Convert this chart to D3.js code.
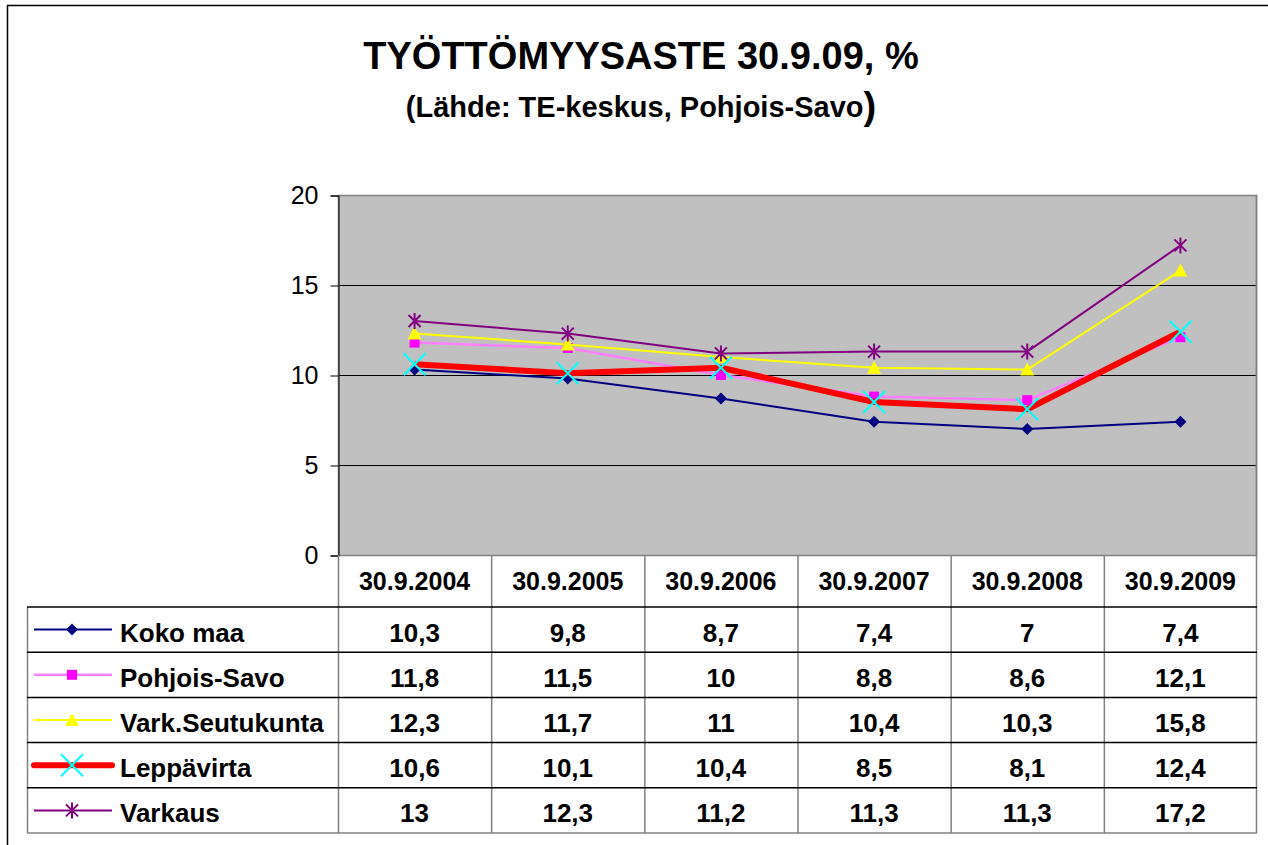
<!doctype html>
<html lang="fi">
<head>
<meta charset="utf-8">
<style>
  body { margin: 0; background: #fff; }
  svg { display: block; font-family: "Liberation Sans", Arial, sans-serif; }
</style>
</head>
<body>
<div id="chart"></div>
<script src="https://d3js.org/d3.v7.min.js"></script>
<script>
// chart data
var dates = ["30.9.2004", "30.9.2005", "30.9.2006", "30.9.2007", "30.9.2008", "30.9.2009"];
var kokoMaa = [10.3, 9.8, 8.7, 7.4, 7, 7.4];
var pohjoisSavo = [11.8, 11.5, 10, 8.8, 8.6, 12.1];
var varkSeutukunta = [12.3, 11.7, 11, 10.4, 10.3, 15.8];
var leppavirta = [10.6, 10.1, 10.4, 8.5, 8.1, 12.4];
var varkaus = [13, 12.3, 11.2, 11.3, 11.3, 17.2];
var yTicks = [0, 5, 10, 15, 20];

var series = [
  {name: "Koko maa", values: kokoMaa, line: "#000080", width: 2, marker: "diamond", mcolor: "#000080"},
  {name: "Pohjois-Savo", values: pohjoisSavo, line: "#FF80FF", width: 2.5, marker: "square", mcolor: "#FF00FF"},
  {name: "Vark.Seutukunta", values: varkSeutukunta, line: "#FFFF00", width: 2, marker: "triangle", mcolor: "#FFFF00"},
  {name: "Leppävirta", values: leppavirta, line: "#FF0000", width: 6, marker: "x", mcolor: "#00FFFF"},
  {name: "Varkaus", values: varkaus, line: "#800080", width: 2, marker: "star", mcolor: "#800080"}
];

var W = 1268, H = 845;
var plot = {left: 338, right: 1257, top: 195, bottom: 555};
var tableLeft = 27, headerBottom = 607, rowH = 45.2;

var svg = d3.select("#chart").append("svg")
    .attr("width", W)
    .attr("height", H);

svg.append("rect").attr("width", W).attr("height", H).attr("fill", "#fff");

// outer frame
svg.append("rect")
   .attr("x", 7.5).attr("y", 5.5)
   .attr("width", 1270).attr("height", 850)
   .attr("fill", "none").attr("stroke", "#000").attr("stroke-width", 1.5);

// titles
svg.append("text")
   .attr("x", 641).attr("y", 69)
   .attr("text-anchor", "middle")
   .attr("font-size", 38).attr("font-weight", "bold")
   .text("TYÖTTÖMYYSASTE 30.9.09, %");

var sub = svg.append("text")
   .attr("x", 641).attr("y", 117)
   .attr("text-anchor", "middle")
   .attr("font-size", 29).attr("font-weight", "bold");
sub.append("tspan").text("(Lähde: TE-keskus, Pohjois-Savo");
sub.append("tspan").attr("font-size", 38).attr("dy", 2).text(")");

// scales
var x = d3.scaleBand().domain(dates).range([plot.left, plot.right]);
var y = d3.scaleLinear().domain([0, 20]).range([plot.bottom, plot.top]);

// plot area
svg.append("rect")
   .attr("x", plot.left).attr("y", plot.top)
   .attr("width", plot.right - plot.left).attr("height", plot.bottom - plot.top)
   .attr("fill", "#C0C0C0");

svg.append("g").selectAll("line")
   .data(yTicks.filter(function(d) { return d > 0 && d < 20; }))
   .join("line")
   .attr("x1", plot.left).attr("x2", plot.right)
   .attr("y1", function(d) { return y(d) + 0.5; }).attr("y2", function(d) { return y(d) + 0.5; })
   .attr("stroke", "#000").attr("stroke-width", 1);

svg.append("rect")
   .attr("x", plot.left + 0.5).attr("y", plot.top + 0.5)
   .attr("width", plot.right - plot.left - 1).attr("height", plot.bottom - plot.top)
   .attr("fill", "none").attr("stroke", "#808080").attr("stroke-width", 1.5);

// y axis
var yAxis = svg.append("g")
   .attr("transform", "translate(" + (plot.left + 0.5) + ",0.5)")
   .call(d3.axisLeft(y).tickValues(yTicks).tickSize(8).tickPadding(12));
yAxis.select(".domain").attr("stroke", "#000");
yAxis.selectAll(".tick line").attr("stroke", "#000");
yAxis.selectAll("text").attr("font-size", 25).attr("fill", "#000")
   .attr("font-family", "\"Liberation Sans\", Arial, sans-serif");

// series lines and markers
var line = d3.line()
   .x(function(d, i) { return x(dates[i]) + x.bandwidth() / 2; })
   .y(function(d) { return y(d); });

function markerPath(type) {
  if (type === "diamond") return "M0,-6L6,0L0,6L-6,0Z";
  if (type === "square") return "M-5,-5H5V5H-5Z";
  if (type === "triangle") return "M0,-7L7,6H-7Z";
  if (type === "x") return "M-11,-11L11,11M-11,11L11,-11";
  if (type === "star") return "M-6,-6L6,6M-6,6L6,-6M0,-8V8";
}

series.forEach(function(s) {
  var g = svg.append("g");
  g.append("path")
   .attr("d", line(s.values))
   .attr("fill", "none")
   .attr("stroke", s.line)
   .attr("stroke-width", s.width)
   .attr("stroke-linejoin", "round");
  g.selectAll("path.m")
   .data(s.values)
   .join("path")
   .attr("class", "m")
   .attr("transform", function(d, i) {
     return "translate(" + (x(dates[i]) + x.bandwidth() / 2) + "," + y(d) + ")";
   })
   .attr("d", markerPath(s.marker))
   .attr("fill", (s.marker === "x" || s.marker === "star") ? "none" : s.mcolor)
   .attr("stroke", s.mcolor)
   .attr("stroke-width", s.marker === "x" ? 2 : (s.marker === "star" ? 2 : 0));
});

// data table
var fmt = d3.formatLocale({decimal: ",", thousands: " ", grouping: [3], currency: ["", ""]}).format("~g");
var tableBottom = headerBottom + rowH * series.length;
var grid = svg.append("g").attr("stroke", "#000").attr("stroke-width", 1.5);

// column separators
grid.selectAll("line.v")
   .data(dates)
   .join("line")
   .attr("class", "v")
   .attr("x1", function(d) { return x(d) + 0.5; }).attr("x2", function(d) { return x(d) + 0.5; })
   .attr("y1", plot.bottom).attr("y2", tableBottom)
   .attr("stroke", "#808080");
grid.append("line")
   .attr("x1", plot.right - 0.5).attr("x2", plot.right - 0.5)
   .attr("y1", plot.top).attr("y2", tableBottom)
   .attr("stroke", "#808080");
grid.append("line")
   .attr("x1", tableLeft + 0.5).attr("x2", tableLeft + 0.5)
   .attr("y1", headerBottom).attr("y2", tableBottom)
   .attr("stroke", "#808080");
grid.append("line")
   .attr("x1", tableLeft).attr("x2", plot.right)
   .attr("y1", tableBottom).attr("y2", tableBottom)
   .attr("stroke", "#808080");
grid.selectAll("line.h")
   .data(series)
   .join("line")
   .attr("class", "h")
   .attr("x1", tableLeft).attr("x2", plot.right)
   .attr("y1", function(d, i) { return headerBottom + i * rowH; })
   .attr("y2", function(d, i) { return headerBottom + i * rowH; });

// header labels
svg.append("g").selectAll("text")
   .data(dates)
   .join("text")
   .attr("x", function(d) { return x(d) + x.bandwidth() / 2; })
   .attr("y", 590)
   .attr("text-anchor", "middle")
   .attr("font-size", 25).attr("font-weight", "bold")
   .text(function(d) { return d; });

// rows
series.forEach(function(s, r) {
  var cy = headerBottom + r * rowH + rowH / 2;
  var g = svg.append("g");
  g.append("line")
   .attr("x1", 34).attr("x2", 112)
   .attr("y1", cy).attr("y2", cy)
   .attr("stroke", s.line).attr("stroke-width", s.width)
   .attr("stroke-linecap", s.width > 3 ? "round" : "butt");
  g.append("path")
   .attr("transform", "translate(72," + cy + ")")
   .attr("d", markerPath(s.marker))
   .attr("fill", (s.marker === "x" || s.marker === "star") ? "none" : s.mcolor)
   .attr("stroke", s.mcolor)
   .attr("stroke-width", (s.marker === "x" || s.marker === "star") ? 2 : 0);
  g.append("text")
   .attr("x", 120).attr("y", cy + 12)
   .attr("font-size", 26).attr("font-weight", "bold")
   .text(s.name);
  g.selectAll("text.v")
   .data(s.values)
   .join("text")
   .attr("class", "v")
   .attr("x", function(d, i) { return x(dates[i]) + x.bandwidth() / 2; })
   .attr("y", cy + 12)
   .attr("text-anchor", "middle")
   .attr("font-size", 26).attr("font-weight", "bold")
   .text(function(d) { return fmt(d); });
});
</script>
</body>
</html>
